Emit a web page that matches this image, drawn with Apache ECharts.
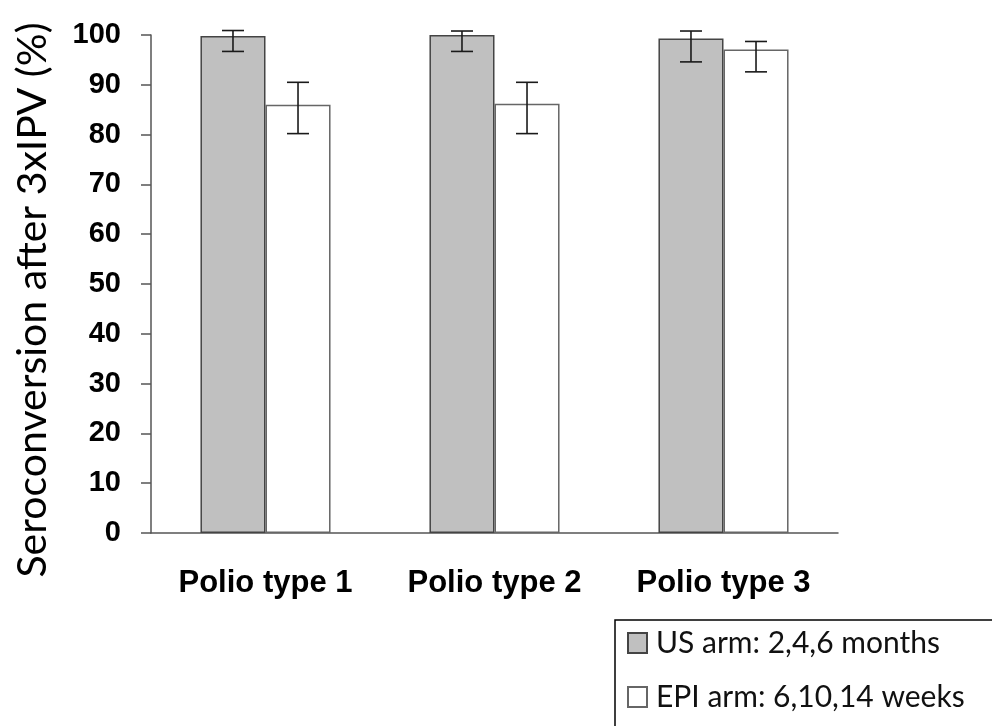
<!DOCTYPE html>
<html>
<head>
<meta charset="utf-8">
<script src="https://cdn.jsdelivr.net/npm/echarts@6/dist/echarts.min.js"></script>
<style>
  html, body { margin: 0; padding: 0; background: #fff; }
  #chart { width: 992px; height: 726px; }
</style>
</head>
<body>
<div id="chart"></div>
<script>
// Seroconversion rates after three IPV doses, by poliovirus type and schedule
const categories = ['Polio type 1', 'Polio type 2', 'Polio type 3'];
const seriesNames = ['US arm: 2,4,6 months', 'EPI arm: 6,10,14 weeks'];
const usArm = [99.8, 100, 99.3];
const usLow = [96.7, 96.7, 94.6];
const usHigh = [100.9, 100.8, 100.8];
const epiArm = [86.0, 86.2, 97.1];
const epiLow = [80.2, 80.2, 92.6];
const epiHigh = [90.5, 90.5, 98.7];
const yTicks = [0, 10, 20, 30, 40, 50, 60, 70, 80, 90, 100];

const BAR_FRACTION = 0.284;

// error bar renderer: side = -1 for the left bar of a group, +1 for the right
function errorBars(side) {
  return function (params, api) {
    const idx = api.value(0);
    const lo = api.coord([idx, api.value(1)]);
    const hi = api.coord([idx, api.value(2)]);
    const band = api.size([1, 0])[0];
    const x = lo[0] + side * band * BAR_FRACTION / 2;
    const cap = 11;
    const style = { stroke: '#1a1a1a', lineWidth: 1.6 };
    return {
      type: 'group',
      children: [
        { type: 'line', shape: { x1: x, y1: hi[1], x2: x, y2: lo[1] }, style },
        { type: 'line', shape: { x1: x - cap, y1: hi[1], x2: x + cap, y2: hi[1] }, style },
        { type: 'line', shape: { x1: x - cap, y1: lo[1], x2: x + cap, y2: lo[1] }, style }
      ]
    };
  };
}

const chart = echarts.init(document.getElementById('chart'), null, { renderer: 'canvas' });

chart.setOption({
  backgroundColor: '#ffffff',
  animation: false,
  grid: { left: 151, right: 154, top: 35, bottom: 193 },
  legend: {
    orient: 'vertical',
    left: 627,
    top: 628,
    padding: 0,
    itemGap: 24,
    itemWidth: 19,
    itemHeight: 20,
    icon: 'rect',
    data: seriesNames,
    textStyle: { fontFamily: 'Lato', fontSize: 30, color: '#111', padding: [0, 0, 0, 4] }
  },
  graphic: [
    {
      // legend frame, running past the right and bottom edges
      type: 'rect',
      shape: { x: 615, y: 620, width: 500, height: 200 },
      style: { fill: 'none', stroke: '#000', lineWidth: 1.5 },
      silent: true
    },
    {
      type: 'text',
      x: 33,
      y: 300,
      rotation: Math.PI / 2,
      style: {
        text: 'Seroconversion after 3xIPV (%)',
        font: '41px Lato',
        fill: '#000',
        align: 'center',
        verticalAlign: 'middle',
        textAlign: 'center',
        textVerticalAlign: 'middle'
      }
    }
  ],
  xAxis: {
    type: 'category',
    data: categories,
    axisLine: { lineStyle: { color: '#555', width: 1.5 } },
    axisTick: { length: 13, lineStyle: { color: '#555', width: 1.5 } },
    axisLabel: {
      margin: 35,
      fontFamily: 'Liberation Sans',
      fontWeight: 'bold',
      fontSize: 31,
      color: '#000'
    }
  },
  yAxis: {
    type: 'value',
    min: yTicks[0],
    max: yTicks[yTicks.length - 1],
    interval: 10,
    splitLine: { show: false },
    axisLine: { show: true, lineStyle: { color: '#555', width: 1.5 } },
    axisTick: { show: true, length: 10, lineStyle: { color: '#555', width: 1.5 } },
    axisLabel: {
      margin: 30,
      fontFamily: 'Liberation Sans',
      fontWeight: 'bold',
      fontSize: 29,
      color: '#000'
    }
  },
  series: [
    {
      name: seriesNames[0],
      type: 'bar',
      data: usArm,
      barWidth: (BAR_FRACTION * 100) + '%',
      barGap: '0%',
      itemStyle: { color: '#c0c0c0', borderColor: '#444', borderWidth: 1.5 }
    },
    {
      name: seriesNames[1],
      type: 'bar',
      data: epiArm,
      barWidth: (BAR_FRACTION * 100) + '%',
      barGap: '0%',
      itemStyle: { color: '#ffffff', borderColor: '#666', borderWidth: 1.5 }
    },
    {
      type: 'custom',
      renderItem: errorBars(-1),
      data: categories.map((c, i) => [i, usLow[i], usHigh[i]]),
      encode: { x: 0, y: [1, 2] },
      clip: false,
      z: 5
    },
    {
      type: 'custom',
      renderItem: errorBars(1),
      data: categories.map((c, i) => [i, epiLow[i], epiHigh[i]]),
      encode: { x: 0, y: [1, 2] },
      clip: false,
      z: 5
    }
  ]
});
</script>
</body>
</html>
